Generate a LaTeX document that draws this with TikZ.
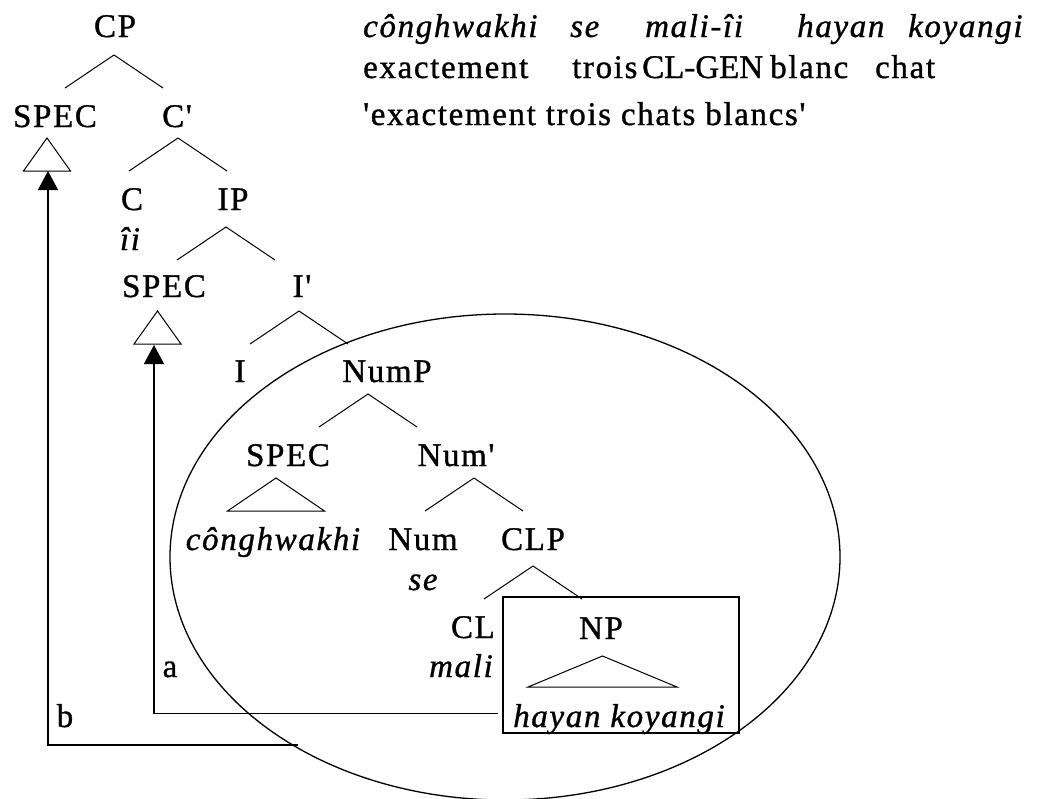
\documentclass[tikz,border=0pt]{standalone}
\usepackage{fontspec}
\setmainfont{Liberation Serif}[LetterSpace=5,Ligatures=TeXOff,FakeBold=1]
\newfontfamily\tightfont{Liberation Serif}[Ligatures=TeXOff,FakeBold=1]
\usetikzlibrary{arrows.meta,shapes.geometric,calc}
\begin{document}
\begin{tikzpicture}[x=1pt,y=-1pt,
  font=\fontsize{33}{40}\selectfont,
  lbl/.style={inner sep=0pt,anchor=base},
  wrd/.style={inner sep=0pt,anchor=base west},
  br/.style={line width=1pt},
  arr/.style={line width=1.3pt,-{Triangle[width=20pt,length=19pt]}},
  frame/.style={draw,line width=1.3pt}]
\useasboundingbox (0,0) rectangle (1043,798);
% tree labels
\node[lbl] (CP) at (115,37) {CP};
\node[lbl] (spec1) at (55,127) {SPEC};
\node[lbl] (Cbar) at (177,127) {C'};
\node[lbl] (C) at (132,210) {C};
\node[lbl] (IP) at (233,210) {IP};
\node[lbl] (ii) at (130,250) {\itshape îi};
\node[lbl] (spec2) at (164,297) {SPEC};
\node[lbl] (Ibar) at (302,297) {I'};
\node[lbl] (I) at (240,382) {I};
\node[lbl] (NumP) at (387,382) {NumP};
\node[lbl] (spec3) at (288,466) {SPEC};
\node[lbl] (Numbar) at (456,466) {Num'};
\node[lbl] (cong) at (273,550) {\itshape cônghwakhi};
\node[lbl] (Num) at (423,550) {Num};
\node[lbl] (CLP) at (533,550) {CLP};
\node[lbl] (se) at (423,590) {\itshape se};
\node[lbl,anchor=base east] (CL) at (495,638) {CL};
\node[lbl,anchor=base east] (mali) at (493,677) {\itshape mali};
\node[lbl] (NP) at (601,639) {NP};
\node[lbl] (hk) at (619,727) {\itshape hayan koyangi};
\node[lbl] (la) at (170,677) {a};
\node[lbl] (lb) at (65,727) {b};
% branches
\foreach \n/\x/\y in {bCP/114/55, bCbar/178/138, bIP/226/227, bIbar/299/311,
                      bNumP/368/394, bNumbar/474/478, bCLP/533/566}{
  \coordinate (\n) at (\x,\y);
  \draw[br] (\n) -- +(-49,33) (\n) -- +(49,33);
}
% triangles
\coordinate (t1) at (47,138);
\draw[br] (t1) -- +(-23.5,33) -- +(23.5,33) -- cycle;
\coordinate (t2) at (157.5,311);
\draw[br] (t2) -- +(-23.5,33) -- +(23.5,33) -- cycle;
\coordinate (t3) at (276,478);
\draw[br] (t3) -- +(-48.5,33) -- +(48.5,33) -- cycle;
\coordinate (t4) at (602.5,656);
\draw[br] (t4) -- +(-74.5,31) -- +(74.5,31) -- cycle;
% ellipse and box
\node[frame,ellipse,inner sep=0pt,minimum width=670pt,minimum height=486pt] (ell) at (505,557) {};
\node[frame,inner sep=0pt,minimum width=236pt,minimum height=136pt] (npbox) at (621,665) {};
% movement arrows
\coordinate (atip) at (154,345);
\coordinate (btip) at (48,171);
\coordinate (astart) at ($(npbox.south west)+(-4,-20)$);
\coordinate (bstart) at (298,745);
\draw[arr] (astart) -| (atip);
\draw[arr] (bstart) -| (btip);
% gloss
\node[wrd] (g1) at (363,37) {\itshape cônghwakhi};
\node[wrd] (g2) at (570,37) {\itshape se};
\node[wrd] (g3) at (645,37) {\itshape mali-îi};
\node[wrd] (g4) at (797,37) {\itshape hayan};
\node[wrd] (g5) at (908,37) {\itshape koyangi};
\node[wrd] (h1) at (363,78) {exactement};
\node[wrd] (h2) at (572,78) {trois};
\node[wrd] (h3) at (642,78) {\tightfont CL-GEN};
\node[wrd] (h4) at (770,78) {blanc};
\node[wrd] (h5) at (875,78) {chat};
\node[wrd] (tr) at (363,125) {'exactement trois chats blancs'};
\end{tikzpicture}
\end{document}
